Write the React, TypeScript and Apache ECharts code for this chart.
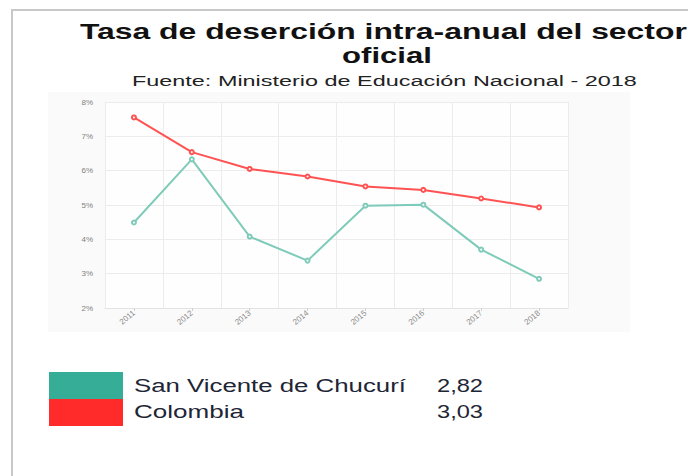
import React, { useEffect, useRef } from "react";
import * as echarts from "echarts";

const years = ["2011", "2012", "2013", "2014", "2015", "2016", "2017", "2018"];
const sanVicente = [4.49, 6.33, 4.08, 3.38, 4.98, 5.01, 3.7, 2.85];
const colombia = [7.55, 6.54, 6.05, 5.83, 5.54, 5.44, 5.19, 4.93];
const seriesNames = ["San Vicente de Chucurí", "Colombia"];
const legendValues = ["2,82", "3,03"];
const titleLines = ["Tasa de deserción intra-anual del sector", "oficial"];
const subtitle = "Fuente: Ministerio de Educación Nacional - 2018";

const FAMILY = '"Liberation Sans", Arial, sans-serif';

function measure(text: string, font: string): number {
  const c = document.createElement("canvas").getContext("2d");
  if (!c) return text.length * 8;
  c.font = font;
  return c.measureText(text).width;
}

function stretchedText(
  text: string,
  left: number,
  width: number,
  baseline: number,
  size: number,
  weight: string,
  fill: string
) {
  const w = measure(text, `${weight} ${size}px ${FAMILY}`);
  const s = width / w;
  return {
    type: "text",
    x: left,
    y: baseline - size * 0.34,
    scaleX: s,
    style: {
      text,
      fontSize: size,
      fontWeight: weight,
      fontFamily: FAMILY,
      fill,
      align: "left",
      verticalAlign: "middle",
    },
    z: 10,
  };
}

export default function App() {
  const ref = useRef<HTMLDivElement>(null);
  useEffect(() => {
    if (!ref.current) return;
    const chart = echarts.init(ref.current, undefined, { renderer: "svg" });
    const teal = "#7fcbb9";
    const red = "#ff5252";
    const option: any = {
      animation: false,
      backgroundColor: "#ffffff",
      grid: {
        left: 105,
        right: 120,
        top: 102,
        bottom: 168,
        show: true,
        backgroundColor: "#fefefe",
        borderWidth: 0,
      },
      xAxis: {
        type: "category",
        data: years,
        boundaryGap: true,
        axisLine: { show: true, lineStyle: { color: "#e3e3e3", width: 1 } },
        axisTick: { show: true, alignWithLabel: true, length: 3, lineStyle: { color: "#d0d0d0" } },
        splitLine: { show: true, lineStyle: { color: "#ececec", width: 1 } },
        axisLabel: {
          rotate: 40,
          fontSize: 8,
          color: "#8a8a8a",
          margin: 4,
          fontFamily: FAMILY,
        },
      },
      yAxis: {
        type: "value",
        min: 2,
        max: 8,
        interval: 1,
        axisLine: { show: true, lineStyle: { color: "#ececec" } },
        axisTick: { show: false },
        splitLine: { show: true, lineStyle: { color: "#ececec", width: 1 } },
        axisLabel: {
          formatter: "{value}%",
          fontSize: 8,
          color: "#808080",
          margin: 12,
          fontFamily: FAMILY,
        },
      },
      series: [
        {
          name: seriesNames[0],
          type: "line",
          data: sanVicente,
          symbol: "emptyCircle",
          symbolSize: 4,
          lineStyle: { color: teal, width: 2 },
          itemStyle: { color: teal, borderWidth: 1.2 },
          z: 3,
        },
        {
          name: seriesNames[1],
          type: "line",
          data: colombia,
          symbol: "emptyCircle",
          symbolSize: 4,
          lineStyle: { color: red, width: 2 },
          itemStyle: { color: red, borderWidth: 1.2 },
          z: 4,
        },
      ],
      graphic: [
        {
          type: "rect",
          shape: { x: 48, y: 92, width: 582, height: 240 },
          style: { fill: "#fafafa" },
          z: -10,
          silent: true,
        },
        {
          type: "rect",
          shape: { x: 12, y: 10, width: 700, height: 500 },
          style: { fill: "none", stroke: "#c8c8c8", lineWidth: 2 },
          z: 20,
          silent: true,
        },
        stretchedText(titleLines[0], 80, 607, 39, 22, "bold", "#111111"),
        stretchedText(titleLines[1], 342, 90, 63, 22, "bold", "#111111"),
        stretchedText(subtitle, 132, 505, 86, 15, "normal", "#222222"),
        {
          type: "rect",
          shape: { x: 49, y: 372, width: 74, height: 27 },
          style: { fill: "#35ad97" },
          z: 10,
        },
        {
          type: "rect",
          shape: { x: 49, y: 399, width: 74, height: 27 },
          style: { fill: "#ff2b2b" },
          z: 10,
        },
        stretchedText(seriesNames[0], 134, 272, 392, 18, "normal", "#1e2535"),
        stretchedText(seriesNames[1], 134, 110, 418, 18, "normal", "#1e2535"),
        stretchedText(legendValues[0], 437, 46, 392, 18, "normal", "#1e2535"),
        stretchedText(legendValues[1], 437, 46, 418, 18, "normal", "#1e2535"),
      ],
    };
    chart.setOption(option);
    return () => chart.dispose();
  }, []);
  return (
    <div
      ref={ref}
      style={{ position: "fixed", left: 0, top: 0, width: 688, height: 476 }}
    />
  );
}
